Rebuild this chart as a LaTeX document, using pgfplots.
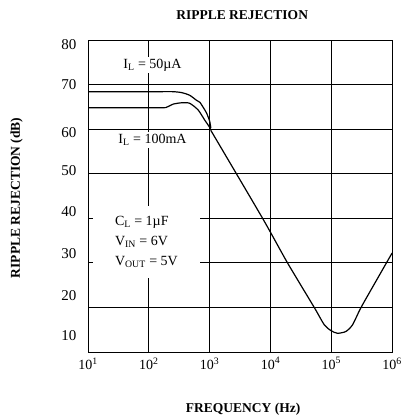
\documentclass[border=0pt]{standalone}
\usepackage{fontspec}
\setmainfont{Liberation Serif}
\usepackage{pgfplots}
\pgfplotsset{compat=1.18}
\begin{document}
\begin{tikzpicture}
\begin{axis}[
    scale only axis,
    width=304pt, height=312pt,
    xmode=log,
    xmin=10, xmax=1e6,
    ymin=10, ymax=80,
    clip=false,
    % x ticks
    xtick={10,100,1000,10000,100000,1000000},
    xticklabels={10\textsuperscript{1},10\textsuperscript{2},10\textsuperscript{3},10\textsuperscript{4},10\textsuperscript{5},10\textsuperscript{6}},
    xticklabel style={font=\fontsize{14}{16}\selectfont, yshift=-2pt},
    % y ticks: grid at the tens, labels where the reference puts them
    ytick={10,20,30,40,50,60,70,80},
    yticklabels={},
    extra y ticks={13.7,22.7,32.1,41.6,50.8,59.3,69.9,78.9},
    extra y tick labels={10,20,30,40,50,60,70,80},
    extra y tick style={grid=none},
    yticklabel style={font=\fontsize{15}{17}\selectfont, xshift=-8pt},
    % grid layout
    grid=major,
    xminorgrids=false,
    major grid style={black, line width=0.8pt},
    axis line style={black, line width=0.8pt},
    major tick length=0pt,
    minor tick length=0pt,
]
% I_L = 50 uA
\addplot[black, line width=1.2pt, smooth, tension=0.4] coordinates {
    (10,68.4) (150,68.4) (245,68.4) (343,68.2) (468,67.6) (603,66.5)
    (692,66.0) (832,64.3) (891,63.6) (1000,61.8) (1047,60.2)
};
% I_L = 100 mA
\addplot[black, line width=1.2pt, smooth, tension=0.4] coordinates {
    (10,64.8) (150,64.8) (195,64.9) (251,65.6) (343,65.9) (468,65.8)
    (646,64.3) (832,62.0) (1000,60.4) (1047,59.7)
};
% common slope and notch
\addplot[black, line width=1.2pt, smooth, tension=0.4] coordinates {
    (1047,59.7) (7413,40) (19055,30) (52481,20) (76736,16.1)
    (98855,14.8) (125893,14.2) (173780,14.6) (223872,16.1)
    (309030,20) (616595,27.2) (1000000,32.2)
};
% annotations
\node[fill=white, inner sep=2pt, font=\fontsize{14}{16}\selectfont]
    at (rel axis cs:0.212,0.92) {I\textsubscript{L} = 50µA};
\node[fill=white, inner sep=2pt, font=\fontsize{14}{16}\selectfont]
    at (rel axis cs:0.212,0.679) {I\textsubscript{L} = 100mA};
\node[fill=white, inner sep=0pt, minimum width=107pt, minimum height=72pt,
      align=left, font=\fontsize{14}{20}\selectfont]
    at (rel axis cs:0.192,0.352)
    {C\textsubscript{L} = 1µF\\V\textsubscript{IN} = 6V\\V\textsubscript{OUT} = 5V};
% titles
\node[font=\bfseries\fontsize{13.5}{15}\selectfont]
    at (rel axis cs:0.507,1.08) {RIPPLE REJECTION};
\node[font=\bfseries\fontsize{13.5}{15}\selectfont]
    at (rel axis cs:0.51,-0.183) {FREQUENCY (Hz)};
\node[rotate=90, font=\bfseries\fontsize{13.5}{15}\selectfont]
    at (rel axis cs:-0.235,0.494) {RIPPLE REJECTION (dB)};
\coordinate (bbll) at (rel axis cs:-0.2895,-0.2115);
\coordinate (bbur) at (rel axis cs:1.046,1.128);
\end{axis}
\pgfresetboundingbox
\path[use as bounding box] (bbll) rectangle (bbur);
\end{tikzpicture}
\end{document}
